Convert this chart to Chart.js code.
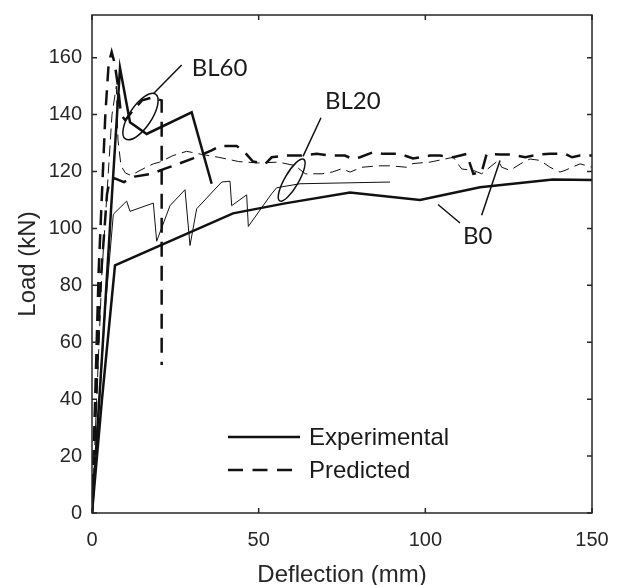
<!DOCTYPE html>
<html>
<head>
<meta charset="utf-8">
<script src="https://cdn.jsdelivr.net/npm/chart.js@4.4.1/dist/chart.umd.min.js"></script>
<style>
  body { margin: 0; background: #fff; }
  #wrap { width: 620px; height: 585px; }
</style>
</head>
<body>
<div id="wrap"><canvas id="myChart" width="620" height="585"></canvas></div>
<script>
    // axis ticks
    const xTicks = [0, 50, 100, 150];
    const yTicks = [0, 20, 40, 60, 80, 100, 120, 140, 160];

    // B0 - experimental (thick solid)
    const b0ExpX = [0, 3, 6.9, 42.3, 57.9, 77.4, 98.4, 116.4, 138.3, 150];
    const b0ExpY = [0, 40, 87, 105.3, 108.8, 112.6, 110, 114.5, 117.2, 117];

    // B0 - predicted (thick dashed)
    const b0PredX = [0, 2.5, 4.5, 5.3, 6.8, 9.6, 12.8, 17.8, 21.9, 24.3, 30.3, 35.9, 38.4, 43.4, 46, 48.3, 52, 53.9, 58.4, 62.4, 67.4, 71.4, 75.9, 78, 80.4, 84.4, 87.4, 92.4, 96.3, 101.4, 104.4, 108.4, 112.4, 114.4, 116.9, 118.4, 122.4, 125.4, 130, 134, 137.4, 141.9, 144, 146.4, 150];
    const b0PredY = [0, 80, 112, 116.8, 117.6, 116.3, 118.2, 119.2, 121, 122, 124.6, 127.4, 129, 129, 126.5, 123.5, 122.7, 125, 125.6, 125.6, 126.2, 125.6, 125.6, 124.5, 125, 126.8, 126.2, 126.2, 124.6, 125.6, 125.6, 125, 126.2, 119.2, 119.8, 126.2, 126, 126, 125, 126, 126.2, 126.2, 125, 125.6, 125.6];

    // BL20 - experimental (thin solid)
    const bl20ExpX = [0, 2, 4, 6.4, 10.4, 11.4, 18.4, 19.4, 23.4, 27.9, 29.4, 31.4, 38.9, 41.4, 41.9, 46.4, 46.9, 53.9, 55.4, 62.4, 89.4];
    const bl20ExpY = [0, 35, 72, 105, 109.6, 106, 108.9, 95.5, 108, 113.6, 94, 106.9, 116.3, 116.6, 108, 111.8, 100.7, 112.2, 114.3, 115.7, 116.3];

    // BL20 - predicted (thin dashed)
    const bl20PredX = [0, 3, 6, 7.3, 7.8, 8.7, 10, 11.7, 14.4, 18.4, 20.3, 24.3, 28.4, 33, 38, 44, 50, 55.9, 60.9, 64, 69, 72, 75, 77.4, 81, 86, 89.4, 94.4, 96.3, 101.4, 105.9, 108.4, 110.9, 114.4, 116.9, 121.9, 122.9, 125.4, 129.4, 131.4, 134.4, 137.4, 140.4, 141.9, 146.4, 150];
    const bl20PredY = [0, 85, 140, 150, 131, 122, 119.5, 118.6, 120.4, 122.7, 123.3, 125.6, 127.1, 126, 125, 123.5, 123, 123.3, 122.1, 119.2, 119.2, 119.8, 121, 119.8, 121.5, 122, 122, 121.5, 122.8, 123.3, 124.4, 125, 120.9, 120.4, 119.2, 123.9, 121.5, 120.4, 123.3, 124.4, 123.9, 121.5, 119.8, 120.4, 122.7, 121.5];

    // BL60 - experimental (thick solid)
    const bl60ExpX = [0, 3, 6, 8.4, 11.4, 16.4, 29.9, 35.9];
    const bl60ExpY = [0, 55, 112, 156.4, 137.3, 133.2, 140.8, 115.7];

    // BL60 - predicted (thick dashed)
    const bl60PredX = [0, 2, 4, 5, 5.9, 6.8, 7.8, 8.7, 10, 12, 15, 18, 20.9, 20.9];
    const bl60PredY = [0, 85, 140, 158, 162, 158, 150, 140, 138, 141, 145, 146, 145, 52];

    const pts = (xs, ys) => xs.map((v, i) => ({x: v, y: ys[i]}));

    const FONT = '"Liberation Sans", Arial, sans-serif';
    const INK = '#262626';

    function line(data, width, dash) {
        return {
            data: data,
            borderColor: '#111',
            borderWidth: width,
            borderDash: dash,
            pointRadius: 0,
            tension: 0,
            fill: false
        };
    }

    // fixed axis box, no extra label padding
    function fitBox(size, horizontal) {
        return s => {
            if (horizontal) s.height = size; else s.width = size;
            s.paddingTop = 0; s.paddingBottom = 0;
            s.paddingLeft = 0; s.paddingRight = 0;
        };
    }

    // box, inward ticks, legend and labels drawn on top
    const overlay = {
        id: 'overlay',
        afterDatasetsDraw(chart) {
            const {ctx, chartArea: a, scales: {x, y}} = chart;
            const px = v => x.getPixelForValue(v);
            const py = v => y.getPixelForValue(v);
            ctx.save();

            ctx.strokeStyle = INK;
            ctx.lineWidth = 1.5;
            ctx.strokeRect(a.left, a.top, a.right - a.left, a.bottom - a.top);
            ctx.beginPath();
            xTicks.forEach(v => {
                const p = px(v);
                ctx.moveTo(p, a.bottom); ctx.lineTo(p, a.bottom - 5);
                ctx.moveTo(p, a.top); ctx.lineTo(p, a.top + 5);
            });
            yTicks.forEach(v => {
                const p = py(v);
                ctx.moveTo(a.left, p); ctx.lineTo(a.left + 5, p);
                ctx.moveTo(a.right, p); ctx.lineTo(a.right - 5, p);
            });
            ctx.stroke();

            // legend
            const lx0 = a.left + 136, lx1 = a.left + 208;
            const ly0 = a.bottom - 76, ly1 = a.bottom - 43;
            ctx.strokeStyle = '#111';
            ctx.lineWidth = 2.5;
            ctx.beginPath();
            ctx.moveTo(lx0, ly0); ctx.lineTo(lx1, ly0);
            ctx.stroke();
            ctx.setLineDash([15, 9.5]);
            ctx.beginPath();
            ctx.moveTo(lx0, ly1); ctx.lineTo(lx1, ly1);
            ctx.stroke();
            ctx.setLineDash([]);
            ctx.fillStyle = '#1a1a1a';
            ctx.font = '24px ' + FONT;
            ctx.textBaseline = 'middle';
            ctx.textAlign = 'left';
            ctx.fillText('Experimental', lx1 + 9, ly0 + 1);
            ctx.fillText('Predicted', lx1 + 9, ly1 + 1);

            // specimen labels with leaders and ellipses
            ctx.lineWidth = 1.5;
            ctx.strokeStyle = '#111';
            ctx.font = '24px Lato, "Open Sans", sans-serif';
            ctx.textBaseline = 'alphabetic';
            ctx.fillText('BL60', px(29.9), py(153.7));
            ctx.fillText('BL20', px(69.9), py(141.8));
            ctx.fillText('B0', px(111.3), py(94.7));

            ctx.beginPath();
            ctx.moveTo(px(26.9), py(157.4)); ctx.lineTo(px(18.4), py(147.3));
            ctx.moveTo(px(68.7), py(138.9)); ctx.lineTo(px(63.3), py(125.3));
            ctx.moveTo(px(103.8), py(108.4)); ctx.lineTo(px(110.4), py(101.9));
            ctx.moveTo(px(122.4), py(123.9)); ctx.lineTo(px(116.9), py(104.6));
            ctx.stroke();

            ctx.beginPath();
            ctx.ellipse(px(14.55), py(139.3), 27, 11, -56 * Math.PI / 180, 0, 2 * Math.PI);
            ctx.stroke();
            ctx.beginPath();
            ctx.ellipse(px(59.9), py(117), 24, 7, -60 * Math.PI / 180, 0, 2 * Math.PI);
            ctx.stroke();

            ctx.restore();
        }
    };

    const ctx = document.getElementById('myChart').getContext('2d');

    const chart = new Chart(ctx, {
        type: 'line',
        data: {
            datasets: [
                line(pts(b0ExpX, b0ExpY), 2.5, []),
                line(pts(b0PredX, b0PredY), 2.5, [15, 9]),
                line(pts(bl20ExpX, bl20ExpY), 1, []),
                line(pts(bl20PredX, bl20PredY), 1, [11, 6]),
                line(pts(bl60ExpX, bl60ExpY), 2.5, []),
                line(pts(bl60PredX, bl60PredY), 2.5, [15, 9])
            ]
        },
        options: {
            responsive: false,
            animation: false,
            layout: { padding: { top: 15, right: 28, left: 0, bottom: 0 } },
            plugins: {
                legend: { display: false },
                tooltip: { enabled: false }
            },
            scales: {
                x: {
                    type: 'linear',
                    min: 0,
                    max: 150,
                    afterBuildTicks: s => { s.ticks = xTicks.map(v => ({value: v})); },
                    afterFit: fitBox(72, true),
                    grid: { display: false, drawTicks: false },
                    border: { display: false },
                    ticks: { color: INK, padding: 15, maxRotation: 0, font: { family: FONT, size: 20 } },
                    title: {
                        display: true,
                        text: 'Deflection (mm)',
                        color: INK,
                        font: { family: FONT, size: 24, lineHeight: 1 },
                        padding: { top: 0, bottom: -2 }
                    }
                },
                y: {
                    min: 0,
                    max: 175,
                    afterBuildTicks: s => { s.ticks = yTicks.map(v => ({value: v})); },
                    afterFit: fitBox(92, false),
                    grid: { display: false, drawTicks: false },
                    border: { display: false },
                    ticks: { color: INK, padding: 10, font: { family: FONT, size: 20 } },
                    title: {
                        display: true,
                        text: 'Load (kN)',
                        color: INK,
                        font: { family: FONT, size: 24, lineHeight: 1.2 },
                        padding: { top: 14, bottom: 0 }
                    }
                }
            }
        },
        plugins: [overlay]
    });
</script>
</body>
</html>
